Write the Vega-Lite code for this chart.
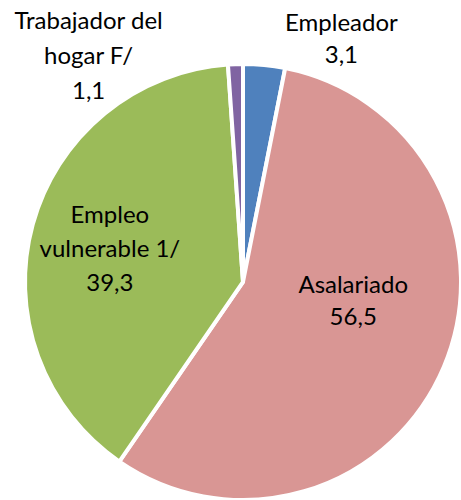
{
  "$schema": "https://vega.github.io/schema/vega-lite/v6.json",
  "width": 436,
  "height": 436,
  "autosize": {"type": "none"},
  "padding": {"left": 25, "top": 64, "right": 0, "bottom": 0},
  "background": "white",
  "config": {"view": {"stroke": null}},
  "data": {
    "values": [
      {"categoria": "Empleador", "valor": 3.1, "orden": 1, "etiqueta": "Empleador\n3,1"},
      {"categoria": "Asalariado", "valor": 56.5, "orden": 2, "etiqueta": "Asalariado\n56,5"},
      {"categoria": "Empleo vulnerable 1/", "valor": 39.3, "orden": 3, "etiqueta": "Empleo\nvulnerable 1/\n39,3"},
      {"categoria": "Trabajador del hogar F/", "valor": 1.1, "orden": 4, "etiqueta": "Trabajador del\nhogar F/\n1,1"}
    ]
  },
  "encoding": {
    "theta": {"field": "valor", "type": "quantitative", "stack": true},
    "order": {"field": "orden", "type": "quantitative"}
  },
  "layer": [
    {
      "mark": {"type": "arc", "stroke": "white", "strokeWidth": 4},
      "encoding": {
        "color": {
          "field": "categoria",
          "type": "nominal",
          "scale": {
            "domain": ["Empleador", "Asalariado", "Empleo vulnerable 1/", "Trabajador del hogar F/"],
            "range": ["#4F81BD", "#D99694", "#9BBB59", "#8064A2"]
          },
          "legend": null
        }
      }
    },
    {
      "mark": {"type": "text", "radius": 138, "dy": -30, "font": "Lato", "fontSize": 24, "lineHeight": 34, "lineBreak": "\n", "color": "black"},
      "encoding": {
        "text": {"field": "etiqueta"},
        "opacity": {"condition": {"test": "datum.categoria === 'Empleo vulnerable 1/'", "value": 1}, "value": 0}
      }
    },
    {
      "mark": {"type": "text", "radius": 112, "dx": 7, "dy": -40, "font": "Lato", "fontSize": 24, "lineHeight": 32, "lineBreak": "\n", "color": "black"},
      "encoding": {
        "text": {"field": "etiqueta"},
        "opacity": {"condition": {"test": "datum.categoria === 'Asalariado'", "value": 1}, "value": 0}
      }
    },
    {
      "mark": {"type": "text", "radius": 261, "dx": 73, "dy": 2, "font": "Lato", "fontSize": 24, "lineHeight": 32, "lineBreak": "\n", "color": "black"},
      "encoding": {
        "text": {"field": "etiqueta"},
        "opacity": {"condition": {"test": "datum.categoria === 'Empleador'", "value": 1}, "value": 0}
      }
    },
    {
      "mark": {"type": "text", "radius": 272, "dx": -145, "dy": 12, "font": "Lato", "fontSize": 24, "lineHeight": 35, "lineBreak": "\n", "color": "black"},
      "encoding": {
        "text": {"field": "etiqueta"},
        "opacity": {"condition": {"test": "datum.categoria === 'Trabajador del hogar F/'", "value": 1}, "value": 0}
      }
    }
  ]
}
